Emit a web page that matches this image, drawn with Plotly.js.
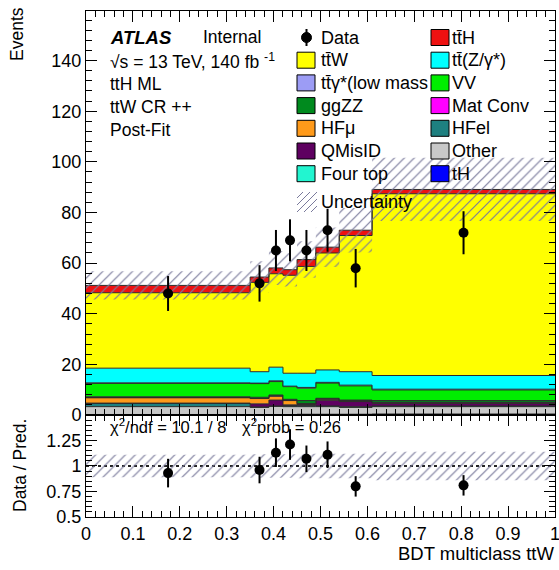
<!DOCTYPE html>
<html><head><meta charset="utf-8">
<script src="https://cdn.plot.ly/plotly-3.0.1.min.js"></script>
<style>html,body{margin:0;padding:0;background:#fff}</style>
</head><body><div id="plot" style="width:559px;height:570px"></div>
<script>
// ---------------- data ----------------
const binEdges   = [0, 0.35, 0.39, 0.42, 0.45, 0.49, 0.54, 0.61, 1.0];
const dataCounts = [48, 52, 65, 69, 65, 73, 58, 72];
const dataErr    = [6.9, 7.2, 8.1, 8.3, 8.1, 8.5, 7.6, 8.5];

const tH      = [0.1, 0.1, 0.1, 0.1, 0.1, 0.1, 0.1, 0.1];
const fourTop = [0.1, 0.1, 0.1, 0.1, 0.2, 0.2, 0.2, 0.3];
const other   = [3.1, 2.8, 3.2, 3.1, 3.0, 3.0, 2.7, 2.9];
const HFel    = [1.3, 0.2, 0.2, 0.4, 0.5, 0.3, 0.3, 0.3];
const QMisID  = [0.1, 1.2, 2.3, 0.3, 0.4, 2.2, 2.0, 1.0];
const HFmu    = [2.1, 2.1, 1.5, 1.7, 0.2, 0.4, 0.2, 0.2];
const matConv = [0.1, 0.1, 0.2, 0.2, 0.1, 0.2, 0.2, 0.2];
const ggZZ    = [0.3, 0.4, 0.3, 0.3, 1.2, 0.2, 0.2, 0.7];
const VV      = [5.3, 5.4, 5.3, 5.0, 4.9, 6.0, 5.6, 4.2];
const ttgamma = [0.2, 0.2, 0.3, 0.2, 0.3, 0.3, 0.3, 0.3];
const ttZ     = [5.8, 4.5, 5.4, 5.1, 5.6, 4.9, 5.3, 5.4];
const ttW     = [29.8, 35.3, 36.9, 38.7, 42.2, 46.2, 53.8, 71.8];
const ttH     = [2.9, 2.1, 2.3, 2.2, 2.7, 2.3, 2.1, 1.7];
const predUnc = [5.6, 6.2, 6.7, 6.6, 7.2, 7.8, 8.8, 12.5];

const ratioVals = [0.93, 0.96, 1.13, 1.21, 1.07, 1.11, 0.80, 0.81];
const ratioErr  = [0.14, 0.13, 0.14, 0.15, 0.13, 0.13, 0.10, 0.10];
const ratioUnc  = [0.11, 0.115, 0.115, 0.115, 0.12, 0.12, 0.12, 0.14];

const legendLeft  = ['Data', 'tt\u0304W', 'tt\u0304\u03b3*(low mass', 'ggZZ', 'HF\u03bc', 'QMisID', 'Four top', 'Uncertainty'];
const legendRight = ['tt\u0304H', 'tt\u0304(Z/\u03b3*)', 'VV', 'Mat Conv', 'HFel', 'Other', 'tH'];
const chiText  = '\u03c7<sup>2</sup>/ndf = 10.1 / 8';
const probText = '\u03c7<sup>2</sup>prob = 0.26';

// ---------------- styles ----------------
const comps = {tH, fourTop, other, HFel, QMisID, HFmu, matConv, ggZZ, VV, ttgamma, ttZ, ttW, ttH};
const stackOrder = ['tH','fourTop','other','HFel','QMisID','HFmu','matConv','ggZZ','VV','ttgamma','ttZ','ttW','ttH'];
const fillColors = {ttH:'#ee1111', ttW:'#ffff00', ttZ:'#00ffff', ttgamma:'#9c9cf5', VV:'#00ee00',
  ggZZ:'#008a1e', matConv:'#ff00ff', HFmu:'#ff9a1a', HFel:'#1e8080', QMisID:'#5e0060',
  other:'#c8c8c8', fourTop:'#22f5d0', tH:'#0000ff'};
const leftKeys  = [null,'ttW','ttgamma','ggZZ','HFmu','QMisID','fourTop',null];
const rightKeys = ['ttH','ttZ','VV','matConv','HFel','other','tH'];
const hatchCol = '#7a7a9c';
const FONT = 'Liberation Sans, Arial, Helvetica, sans-serif';

const W = 559, H = 570, ML = 86, MR = 4, MT = 11, MB = 53;
const PW = W - ML - MR, PH = H - MT - MB;
const px = x => (x - ML) / PW;
const py = y => 1 - (y - MT) / PH;

// ---------------- traces ----------------
const centers = binEdges.slice(0, -1).map((e, i) => (e + binEdges[i + 1]) / 2);
const ext = a => a.concat([a[a.length - 1]]);
const hatch = {shape:'/', fgcolor: hatchCol, bgcolor:'rgba(0,0,0,0)', size:7, solidity:0.17};
const traces = [];
let cum = new Array(dataCounts.length).fill(0);
stackOrder.forEach((k, i) => {
  cum = cum.map((c, j) => c + comps[k][j]);
  traces.push({type:'scatter', x: binEdges, y: ext(cum), mode:'lines',
    line:{shape:'hv', color:'#2b2b2b', width:1}, fill: i === 0 ? 'tozeroy' : 'tonexty',
    fillcolor: fillColors[k], hoverinfo:'skip', showlegend:false, xaxis:'x', yaxis:'y'});
});
const total = cum.slice();
traces.push({type:'scatter', x: binEdges, y: ext(total.map((t, j) => t - predUnc[j])), mode:'lines',
  line:{shape:'hv', width:0}, hoverinfo:'skip', showlegend:false, xaxis:'x', yaxis:'y'});
traces.push({type:'scatter', x: binEdges, y: ext(total.map((t, j) => t + predUnc[j])), mode:'lines',
  line:{shape:'hv', width:0}, fill:'tonexty', fillcolor:'rgba(0,0,0,0)', fillpattern: hatch,
  hoverinfo:'skip', showlegend:false, xaxis:'x', yaxis:'y'});
traces.push({type:'scatter', x: centers, y: dataCounts, mode:'markers',
  marker:{color:'#000', size:10}, error_y:{type:'data', array: dataErr, color:'#000', thickness:2, width:0},
  showlegend:false, xaxis:'x', yaxis:'y'});

// ratio
traces.push({type:'scatter', x: binEdges, y: ext(ratioUnc.map(u => 1 - u)), mode:'lines',
  line:{shape:'hv', width:0}, hoverinfo:'skip', showlegend:false, xaxis:'x2', yaxis:'y2'});
traces.push({type:'scatter', x: binEdges, y: ext(ratioUnc.map(u => 1 + u)), mode:'lines',
  line:{shape:'hv', width:0}, fill:'tonexty', fillcolor:'rgba(0,0,0,0)', fillpattern: hatch,
  hoverinfo:'skip', showlegend:false, xaxis:'x2', yaxis:'y2'});
traces.push({type:'scatter', x: centers, y: ratioVals, mode:'markers',
  marker:{color:'#000', size:10}, error_y:{type:'data', array: ratioErr, color:'#000', thickness:2, width:0},
  showlegend:false, xaxis:'x2', yaxis:'y2'});

// ---------------- annotations & shapes ----------------
const ann = [];
const shapes = [];
const txt = (text, x, y, size, extra) => ann.push(Object.assign({text, x: px(x), y: py(y), xref:'paper', yref:'paper',
  xanchor:'left', yanchor:'middle', showarrow:false, font:{size, color:'#000', family: FONT}}, extra || {}));

txt('<b><i>ATLAS</i></b>', 108, 37, 18.5);
txt('Internal', 201, 37, 17.5);
txt('\u221As = 13 TeV, 140 fb <sup>-1</sup>', 108, 61, 17.5);
txt('ttH ML', 108, 84, 17.5);
txt('ttW CR ++', 108, 107, 17.5);
txt('Post-Fit', 108, 130, 17.5);
txt(chiText, 108, 426, 16.5);
txt(probText, 240, 426, 16.5);
txt('Events', 17, 34, 17.5, {textangle:-90, xanchor:'center'});
txt('Data / Pred.', 20, 466, 17.5, {textangle:-90, xanchor:'center'});
txt('BDT multiclass ttW', 556, 553, 18.5, {xanchor:'right'});

// manual legend
const rowY = i => 37.5 + 22.7 * i;
const box = (x0, yc, color) => shapes.push({type:'rect', xref:'paper', yref:'paper',
  x0: px(x0), x1: px(x0 + 18), y0: py(yc - 8), y1: py(yc + 8), fillcolor: color, line:{color:'#000', width:1}});
legendLeft.forEach((name, i) => {
  const yc = (i === 7) ? 202 : rowY(i);
  txt(name, 319, yc, 18);
  const k = leftKeys[i];
  if (k) box(297, yc, fillColors[k]);
});
legendRight.forEach((name, i) => {
  const yc = rowY(i);
  txt(name, 450, yc, 18);
  box(431, yc, fillColors[rightKeys[i]]);
});
// data symbol
shapes.push({type:'line', xref:'paper', yref:'paper', x0: px(306.5), x1: px(306.5), y0: py(29), y1: py(46), line:{color:'#000', width:2}});
shapes.push({type:'circle', xref:'paper', yref:'paper', x0: px(301.5), x1: px(311.5), y0: py(42.5), y1: py(32.5), fillcolor:'#000', line:{color:'#000', width:1}});
// uncertainty hatch symbol
[-14, -7, 0, 7, 14].forEach(d => {
  const bx0 = 297, bx1 = 317, by0 = 192, by1 = 212; // square
  const xs = bx0 + Math.max(d, 0), ys = by1 - Math.max(-d, 0);
  const xe = bx1 + Math.min(d, 0), ye = by0 + Math.max(d, 0);
  shapes.push({type:'line', xref:'paper', yref:'paper', x0: px(xs), y0: py(ys), x1: px(xe), y1: py(ye), line:{color: hatchCol, width:1}});
});
// reference line in ratio
const refLine = 1;
shapes.push({type:'line', xref:'x2', yref:'y2', x0: binEdges[0], x1: binEdges[binEdges.length - 1], y0: refLine, y1: refLine,
  line:{color:'#222', width:2, dash:'dot'}, layer:'below'});

// ---------------- layout ----------------
const axBase = {showline:true, linecolor:'#000', linewidth:1, mirror:'allticks', ticks:'inside', tickcolor:'#000',
  showgrid:false, zeroline:false, ticklabeloverflow:'allow', tickfont:{size:18, family: FONT, color:'#000'}};
const split = (517 - 415) / PH;
const layout = {
  width: W, height: H, margin:{l: ML, r: MR, t: MT, b: MB}, showlegend:false,
  paper_bgcolor:'#fff', plot_bgcolor:'#fff', font:{family: FONT, color:'#000'},
  xaxis: Object.assign({}, axBase, {domain:[0,1], anchor:'y', range:[0,1], dtick:0.1, tick0:0, ticklen:11,
    showticklabels:false, minor:{ticks:'inside', dtick:0.02, tick0:0, ticklen:6, tickcolor:'#000'}}),
  yaxis: Object.assign({}, axBase, {domain:[split,1], anchor:'x', range:[0,159.6], dtick:20, tick0:0, ticklen:11,
    minor:{ticks:'inside', dtick:4, tick0:0, ticklen:6, tickcolor:'#000'}}),
  xaxis2: Object.assign({}, axBase, {domain:[0,1], anchor:'y2', range:[0,1], dtick:0.1, tick0:0, ticklen:11,
    minor:{ticks:'inside', dtick:0.02, tick0:0, ticklen:6, tickcolor:'#000'}}),
  yaxis2: Object.assign({}, axBase, {domain:[0,split], anchor:'x2', range:[0.5,1.499], dtick:0.25, tick0:0.5, ticklen:11,
    minor:{ticks:'inside', dtick:0.05, tick0:0.5, ticklen:6, tickcolor:'#000'}}),
  annotations: ann, shapes: shapes
};
Plotly.newPlot('plot', traces, layout, {displayModeBar:false, staticPlot:true});
</script></body></html>
